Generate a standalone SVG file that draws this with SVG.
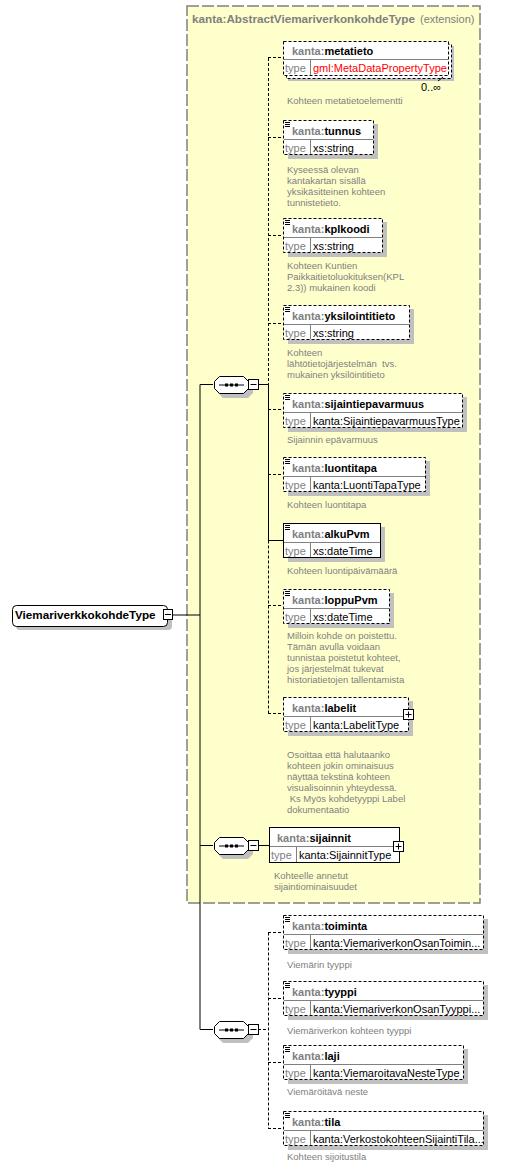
<svg xmlns="http://www.w3.org/2000/svg" width="524" height="1168" viewBox="0 0 524 1168">
<style>
text{font-family:"Liberation Sans",Arial,sans-serif;font-size:11px}
.pre{fill:#808080;font-weight:bold}
.nm{fill:#000;font-weight:bold}
.ty{fill:#808080}
.tv{fill:#000}
.red{fill:#ff0000}
.desc{fill:#808080;font-size:9.5px}
.sh{fill:#c0c0c0}
.box{fill:#fff;stroke:#000;stroke-width:1}
.dsh{stroke-dasharray:3,2}
.div{stroke:#808080;stroke-width:1}
.ln{stroke:#000;stroke-width:1;fill:none}
.ic{stroke:#000;stroke-width:1}
</style>
<rect x="187" y="6" width="293" height="897" fill="#ffffcc" stroke="#808080" stroke-width="1.5" stroke-dasharray="12,3"/>
<text x="192" y="23" class="pre" style="font-size:11.7px">kanta:AbstractViemariverkonkohdeType</text>
<text x="420" y="23" class="ty">(extension)</text>

<g id="connectors">
<line class="ln" x1="173" y1="615" x2="200" y2="615"/>
<line class="ln" x1="200" y1="384.5" x2="200" y2="1029.5"/>
<line class="ln" x1="200" y1="384.5" x2="213" y2="384.5"/>
<line class="ln" x1="200" y1="845.5" x2="213" y2="845.5"/>
<line class="ln" x1="200" y1="1029.5" x2="213" y2="1029.5"/>
<line class="ln" x1="258" y1="384.5" x2="268.5" y2="384.5"/>
<line class="ln dsh" x1="268.5" y1="58" x2="268.5" y2="384.5"/>
<line class="ln" x1="268.5" y1="384.5" x2="268.5" y2="540.5"/>
<line class="ln dsh" x1="268.5" y1="540.5" x2="268.5" y2="713.5"/>
<line class="ln dsh" x1="268" y1="57.5" x2="283" y2="57.5"/>
<line class="ln dsh" x1="268" y1="137.5" x2="283" y2="137.5"/>
<line class="ln dsh" x1="268" y1="235.5" x2="283" y2="235.5"/>
<line class="ln dsh" x1="268" y1="323.5" x2="283" y2="323.5"/>
<line class="ln dsh" x1="268" y1="409.5" x2="283" y2="409.5"/>
<line class="ln dsh" x1="268" y1="474.5" x2="283" y2="474.5"/>
<line class="ln" x1="268" y1="540.5" x2="283" y2="540.5"/>
<line class="ln dsh" x1="268" y1="605.5" x2="283" y2="605.5"/>
<line class="ln dsh" x1="268" y1="713.5" x2="283" y2="713.5"/>
<line class="ln" x1="258" y1="845.5" x2="269" y2="845.5"/>
<line class="ln dsh" x1="258" y1="1029.5" x2="268.5" y2="1029.5"/>
<line class="ln dsh" x1="268.5" y1="932.5" x2="268.5" y2="1128.5"/>
<line class="ln dsh" x1="268" y1="932.5" x2="283" y2="932.5"/>
<line class="ln dsh" x1="268" y1="998.5" x2="283" y2="998.5"/>
<line class="ln dsh" x1="268" y1="1062.5" x2="283" y2="1062.5"/>
<line class="ln dsh" x1="268" y1="1128.5" x2="283" y2="1128.5"/>
</g>

<g id="root">
<rect class="sh" x="16" y="609" width="156" height="21" rx="4"/>
<rect class="box" x="12.5" y="605.5" width="155" height="21" rx="4"/>
<text x="15" y="619" class="nm" style="font-size:11.7px">ViemariverkkokohdeType</text>
<rect class="box" x="163.5" y="609.5" width="9" height="10"/>
<line class="ln" x1="165" y1="614.5" x2="171" y2="614.5"/>
</g>

<g id="seq1">
<polygon class="sh" points="223,381 248,381 253,386 253,393 248,398 223,398 218,393 218,386"/>
<polygon class="box" points="219.5,376.5 243.5,376.5 248.5,381.5 248.5,388.5 243.5,393.5 219.5,393.5 214.5,388.5 214.5,381.5"/>
<line class="ln" x1="219" y1="385" x2="244" y2="385"/>
<rect x="225" y="383.5" width="3" height="3"/><rect x="230" y="383.5" width="3" height="3"/><rect x="235" y="383.5" width="3" height="3"/>
<rect class="box" x="248.5" y="379.5" width="10" height="10"/>
<line class="ln" x1="250.5" y1="384.5" x2="256.5" y2="384.5"/>
</g>

<g id="seq2">
<polygon class="sh" points="223,842 248,842 253,847 253,854 248,859 223,859 218,854 218,847"/>
<polygon class="box" points="219.5,837.5 243.5,837.5 248.5,842.5 248.5,849.5 243.5,854.5 219.5,854.5 214.5,849.5 214.5,842.5"/>
<line class="ln" x1="219" y1="846" x2="244" y2="846"/>
<rect x="225" y="844.5" width="3" height="3"/><rect x="230" y="844.5" width="3" height="3"/><rect x="235" y="844.5" width="3" height="3"/>
<rect class="box" x="248.5" y="840.5" width="10" height="10"/>
<line class="ln" x1="250.5" y1="845.5" x2="256.5" y2="845.5"/>
</g>

<g id="seq3">
<polygon class="sh" points="223,1026 248,1026 253,1031 253,1038 248,1043 223,1043 218,1038 218,1031"/>
<polygon class="box" points="219.5,1021.5 243.5,1021.5 248.5,1026.5 248.5,1033.5 243.5,1038.5 219.5,1038.5 214.5,1033.5 214.5,1026.5"/>
<line class="ln" x1="219" y1="1030" x2="244" y2="1030"/>
<rect x="225" y="1028.5" width="3" height="3"/><rect x="230" y="1028.5" width="3" height="3"/><rect x="235" y="1028.5" width="3" height="3"/>
<rect class="box" x="248.5" y="1024.5" width="10" height="10"/>
<line class="ln" x1="250.5" y1="1029.5" x2="256.5" y2="1029.5"/>
</g>

<g id="metatieto">
<rect class="sh" x="288" y="46" width="166" height="35"/>
<rect class="box dsh" x="286.5" y="44.5" width="165" height="34"/>
<rect class="box dsh" x="283.5" y="41.5" width="165" height="34"/>
<line class="div" x1="284" y1="59.5" x2="448" y2="59.5"/>
<line class="div" x1="310.5" y1="60" x2="310.5" y2="75"/>
<text x="292" y="55"><tspan class="pre">kanta:</tspan><tspan class="nm">metatieto</tspan></text>
<text x="285" y="72" class="ty">type</text>
<text x="313" y="72" class="red">gml:MetaDataPropertyType</text>
<line class="ln" x1="438" y1="81" x2="443" y2="77"/>
<text x="421" y="91" class="tv">0..∞</text>
<text x="287" y="104" class="desc">Kohteen metatietoelementti</text>
</g>

<g id="tunnus">
<rect class="sh" x="288" y="124" width="90" height="35"/>
<rect class="box dsh" x="283.5" y="120.5" width="90" height="34"/>
<line class="div" x1="284" y1="139.5" x2="373" y2="139.5"/>
<line class="div" x1="310.5" y1="140" x2="310.5" y2="154"/>
<path class="ic" d="M285 122.5h5M285 124.5h5M285 126.5h5"/>
<text x="292" y="135"><tspan class="pre">kanta:</tspan><tspan class="nm">tunnus</tspan></text>
<text x="285" y="152" class="ty">type</text>
<text x="313" y="152" class="tv">xs:string</text>
<text class="desc"><tspan x="287" y="173">Kyseessä olevan</tspan><tspan x="287" y="184">kantakartan sisällä</tspan><tspan x="287" y="195">yksikäsitteinen kohteen</tspan><tspan x="287" y="206">tunnistetieto.</tspan></text>
</g>

<g id="kplkoodi">
<rect class="sh" x="288" y="222" width="99" height="35"/>
<rect class="box dsh" x="283.5" y="218.5" width="99" height="34"/>
<line class="div" x1="284" y1="237.5" x2="382" y2="237.5"/>
<line class="div" x1="310.5" y1="238" x2="310.5" y2="252"/>
<path class="ic" d="M285 220.5h5M285 222.5h5M285 224.5h5"/>
<text x="292" y="233"><tspan class="pre">kanta:</tspan><tspan class="nm">kplkoodi</tspan></text>
<text x="285" y="250" class="ty">type</text>
<text x="313" y="250" class="tv">xs:string</text>
<text class="desc"><tspan x="287" y="269">Kohteen Kuntien</tspan><tspan x="287" y="280">Paikkaitietoluokituksen(KPL</tspan><tspan x="287" y="291">2.3)) mukainen koodi</tspan></text>
</g>

<g id="yksilointitieto">
<rect class="sh" x="288" y="309" width="126" height="35"/>
<rect class="box dsh" x="283.5" y="305.5" width="126" height="34"/>
<line class="div" x1="284" y1="324.5" x2="409" y2="324.5"/>
<line class="div" x1="310.5" y1="325" x2="310.5" y2="339"/>
<path class="ic" d="M285 307.5h5M285 309.5h5M285 311.5h5"/>
<text x="292" y="320"><tspan class="pre">kanta:</tspan><tspan class="nm">yksilointitieto</tspan></text>
<text x="285" y="337" class="ty">type</text>
<text x="313" y="337" class="tv">xs:string</text>
<text class="desc" xml:space="preserve"><tspan x="287" y="356">Kohteen</tspan><tspan x="287" y="367">lähtötietojärjestelmän  tvs.</tspan><tspan x="287" y="378">mukainen yksilöintitieto</tspan></text>
</g>

<g id="sijaintiepavarmuus">
<rect class="sh" x="288" y="397" width="179" height="35"/>
<rect class="box dsh" x="283.5" y="393.5" width="179" height="34"/>
<line class="div" x1="284" y1="412.5" x2="462" y2="412.5"/>
<line class="div" x1="310.5" y1="413" x2="310.5" y2="427"/>
<path class="ic" d="M285 395.5h5M285 397.5h5M285 399.5h5"/>
<text x="292" y="408"><tspan class="pre">kanta:</tspan><tspan class="nm">sijaintiepavarmuus</tspan></text>
<text x="285" y="425" class="ty">type</text>
<text x="313" y="425" class="tv">kanta:SijaintiepavarmuusType</text>
<text x="287" y="443" class="desc">Sijainnin epävarmuus</text>
</g>

<g id="luontitapa">
<rect class="sh" x="288" y="461" width="142" height="35"/>
<rect class="box dsh" x="283.5" y="457.5" width="142" height="34"/>
<line class="div" x1="284" y1="476.5" x2="425" y2="476.5"/>
<line class="div" x1="310.5" y1="477" x2="310.5" y2="491"/>
<path class="ic" d="M285 459.5h5M285 461.5h5M285 463.5h5"/>
<text x="292" y="472"><tspan class="pre">kanta:</tspan><tspan class="nm">luontitapa</tspan></text>
<text x="285" y="489" class="ty">type</text>
<text x="313" y="489" class="tv">kanta:LuontiTapaType</text>
<text x="287" y="508" class="desc">Kohteen luontitapa</text>
</g>

<g id="alkuPvm">
<rect class="sh" x="288" y="527" width="97" height="35"/>
<rect class="box" x="283.5" y="523.5" width="97" height="34"/>
<line class="div" x1="284" y1="542.5" x2="380" y2="542.5"/>
<line class="div" x1="310.5" y1="543" x2="310.5" y2="557"/>
<path class="ic" d="M285 525.5h5M285 527.5h5M285 529.5h5"/>
<text x="292" y="538"><tspan class="pre">kanta:</tspan><tspan class="nm">alkuPvm</tspan></text>
<text x="285" y="555" class="ty">type</text>
<text x="313" y="555" class="tv">xs:dateTime</text>
<text x="287" y="574" class="desc">Kohteen luontipäivämäärä</text>
</g>

<g id="loppuPvm">
<rect class="sh" x="288" y="593" width="106" height="35"/>
<rect class="box dsh" x="283.5" y="589.5" width="106" height="34"/>
<line class="div" x1="284" y1="608.5" x2="389" y2="608.5"/>
<line class="div" x1="310.5" y1="609" x2="310.5" y2="623"/>
<path class="ic" d="M285 591.5h5M285 593.5h5M285 595.5h5"/>
<text x="292" y="604"><tspan class="pre">kanta:</tspan><tspan class="nm">loppuPvm</tspan></text>
<text x="285" y="621" class="ty">type</text>
<text x="313" y="621" class="tv">xs:dateTime</text>
<text class="desc"><tspan x="287" y="639">Milloin kohde on poistettu.</tspan><tspan x="287" y="650">Tämän avulla voidaan</tspan><tspan x="287" y="661">tunnistaa poistetut kohteet,</tspan><tspan x="287" y="672">jos järjestelmät tukevat</tspan><tspan x="287" y="683">historiatietojen tallentamista</tspan></text>
</g>

<g id="labelit">
<rect class="sh" x="288" y="701" width="125" height="35"/>
<rect class="box dsh" x="283.5" y="697.5" width="125" height="34"/>
<line class="div" x1="284" y1="716.5" x2="408" y2="716.5"/>
<line class="div" x1="310.5" y1="717" x2="310.5" y2="731"/>
<text x="292" y="712"><tspan class="pre">kanta:</tspan><tspan class="nm">labelit</tspan></text>
<text x="285" y="729" class="ty">type</text>
<text x="313" y="729" class="tv">kanta:LabelitType</text>
<rect class="box" x="403.5" y="709.5" width="10" height="10"/>
<path class="ln" d="M405.5 714.5h6M408.5 711.5v6"/>
<text class="desc" xml:space="preserve"><tspan x="287" y="758">Osoittaa että halutaanko</tspan><tspan x="287" y="769">kohteen jokin ominaisuus</tspan><tspan x="287" y="780">näyttää tekstinä kohteen</tspan><tspan x="287" y="791">visualisoinnin yhteydessä.</tspan><tspan x="287" y="802"> Ks Myös kohdetyyppi Label</tspan><tspan x="287" y="813">dokumentaatio</tspan></text>
</g>

<g id="sijainnit">
<rect class="box" x="269.5" y="827.5" width="130" height="35"/>
<line class="div" x1="270" y1="846.5" x2="399" y2="846.5"/>
<line class="div" x1="296.5" y1="847" x2="296.5" y2="862"/>
<text x="277" y="842"><tspan class="pre">kanta:</tspan><tspan class="nm">sijainnit</tspan></text>
<text x="271" y="859" class="ty">type</text>
<text x="299" y="859" class="tv">kanta:SijainnitType</text>
<rect class="box" x="393.5" y="841.5" width="10" height="10"/>
<path class="ln" d="M395.5 846.5h6M398.5 843.5v6"/>
<text class="desc"><tspan x="274" y="879">Kohteelle annetut</tspan><tspan x="274" y="890">sijaintiominaisuudet</tspan></text>
</g>

<g id="toiminta">
<rect class="sh" x="288" y="919" width="200" height="35"/>
<rect class="box dsh" x="283.5" y="915.5" width="200" height="34"/>
<line class="div" x1="284" y1="934.5" x2="483" y2="934.5"/>
<line class="div" x1="310.5" y1="935" x2="310.5" y2="949"/>
<path class="ic" d="M285 917.5h5M285 919.5h5M285 921.5h5"/>
<text x="292" y="930"><tspan class="pre">kanta:</tspan><tspan class="nm">toiminta</tspan></text>
<text x="285" y="947" class="ty">type</text>
<text x="313" y="947" class="tv">kanta:ViemariverkonOsanToimin...</text>
<text x="287" y="968" class="desc">Viemärin tyyppi</text>
</g>

<g id="tyyppi">
<rect class="sh" x="288" y="985" width="200" height="35"/>
<rect class="box dsh" x="283.5" y="981.5" width="200" height="34"/>
<line class="div" x1="284" y1="1000.5" x2="483" y2="1000.5"/>
<line class="div" x1="310.5" y1="1001" x2="310.5" y2="1015"/>
<path class="ic" d="M285 983.5h5M285 985.5h5M285 987.5h5"/>
<text x="292" y="996"><tspan class="pre">kanta:</tspan><tspan class="nm">tyyppi</tspan></text>
<text x="285" y="1013" class="ty">type</text>
<text x="313" y="1013" class="tv">kanta:ViemariverkonOsanTyyppi...</text>
<text x="287" y="1034" class="desc">Viemäriverkon kohteen tyyppi</text>
</g>

<g id="laji">
<rect class="sh" x="288" y="1049" width="180" height="35"/>
<rect class="box dsh" x="283.5" y="1045.5" width="180" height="34"/>
<line class="div" x1="284" y1="1064.5" x2="463" y2="1064.5"/>
<line class="div" x1="310.5" y1="1065" x2="310.5" y2="1079"/>
<path class="ic" d="M285 1047.5h5M285 1049.5h5M285 1051.5h5"/>
<text x="292" y="1060"><tspan class="pre">kanta:</tspan><tspan class="nm">laji</tspan></text>
<text x="285" y="1077" class="ty">type</text>
<text x="313" y="1077" class="tv">kanta:ViemaroitavaNesteType</text>
<text x="287" y="1095" class="desc">Viemäröitävä neste</text>
</g>

<g id="tila">
<rect class="sh" x="288" y="1115" width="200" height="35"/>
<rect class="box dsh" x="283.5" y="1111.5" width="200" height="34"/>
<line class="div" x1="284" y1="1130.5" x2="483" y2="1130.5"/>
<line class="div" x1="310.5" y1="1131" x2="310.5" y2="1145"/>
<path class="ic" d="M285 1113.5h5M285 1115.5h5M285 1117.5h5"/>
<text x="292" y="1126"><tspan class="pre">kanta:</tspan><tspan class="nm">tila</tspan></text>
<text x="285" y="1143" class="ty">type</text>
<text x="313" y="1143" class="tv">kanta:VerkostokohteenSijaintiTila...</text>
<text x="287" y="1160" class="desc">Kohteen sijoitustila</text>
</g>
</svg>
